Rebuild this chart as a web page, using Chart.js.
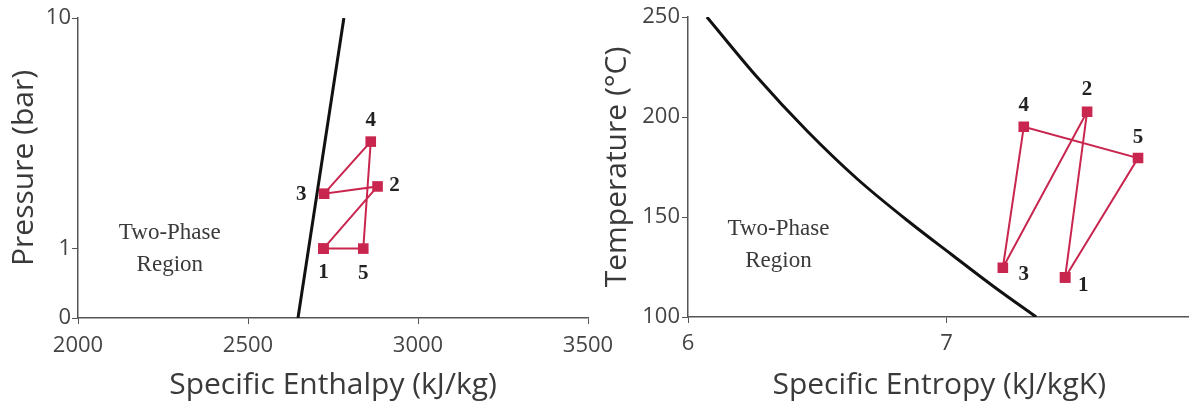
<!DOCTYPE html>
<html>
<head>
<meta charset="utf-8">
<script src="https://cdn.jsdelivr.net/npm/chart.js@4.4.0/dist/chart.umd.min.js"></script>
<style>
  html, body { margin: 0; padding: 0; background: #fff; }
  #wrap { position: relative; width: 1189px; height: 405px; overflow: hidden; }
  .box { position: absolute; top: 0; height: 405px; }
  #leftBox { left: 0; width: 640px; }
  #rightBox { left: 590px; width: 608px; }
</style>
</head>
<body>
<div id="wrap">
  <div class="box" id="leftBox"><canvas id="phChart" width="640" height="405"></canvas></div>
  <div class="box" id="rightBox"><canvas id="tsChart" width="608" height="405"></canvas></div>
</div>
<script>
// state numbers of the cycle
const stateLabels = ["1", "2", "3", "4", "5"];

// P-h diagram
const phEnthalpy = [2722, 2881, 2724, 2861, 2839];
const phPressure = [1.0, 1.86, 1.73, 2.91, 1.0];
const phSatEnthalpy = [2647, 2782];
const phSatPressure = [0.5, 10];
const phXTicks = [2000, 2500, 3000, 3500];
const phYTicks = [0.5, 1, 10];
const phYTickLabels = ["0", "1", "10"];

// T-s diagram
const tsEntropy = [7.459, 7.544, 7.218, 7.299, 7.741];
const tsTemperature = [119.8, 202.6, 124.6, 195.1, 179.5];
const tsSatEntropy = [6.073, 6.267, 6.461, 6.655, 6.861, 7.017, 7.185, 7.347];
const tsSatTemperature = [250, 220, 193, 169, 147, 131.5, 115, 100];
const tsXTicks = [6, 7];
const tsYTicks = [100, 150, 200, 250];

const regionText = ["Two-Phase", "Region"];

const RED = "#c9264f";
const AXIS = "#555";
const TEXT = "#3a3a3a";
const SANS = "'Open Sans', 'Noto Sans', sans-serif";
const SERIF = "'Liberation Serif', 'DejaVu Serif', serif";

// pixel offsets of the state numbers from their markers
const phLabelOffsets = [[0, 24], [17, -1], [-23, 1], [0, -21], [0, 25]];
const tsLabelOffsets = [[18, 8], [0, -22], [21, 7], [0, -21], [0, -20]];

function closedCycle(xs, ys) {
  const pts = xs.map((x, i) => ({ x: x, y: ys[i] }));
  pts.push(pts[0]);
  return pts;
}

function toPoints(xs, ys) {
  return xs.map((x, i) => ({ x: x, y: ys[i] }));
}

// draws state numbers and the "Two-Phase Region" note
function annotatePlugin(offsets, regionAt) {
  return {
    id: "annotate",
    afterDatasetsDraw(chart) {
      const ctx = chart.ctx;
      const meta = chart.getDatasetMeta(0);
      ctx.save();
      ctx.fillStyle = "#222";
      ctx.font = "bold 21px " + SERIF;
      ctx.textAlign = "center";
      ctx.textBaseline = "middle";
      stateLabels.forEach((lab, i) => {
        const p = meta.data[i];
        ctx.fillText(lab, p.x + offsets[i][0], p.y + offsets[i][1]);
      });
      const cx = chart.scales.x.getPixelForValue(regionAt[0]);
      const cy = chart.scales.y.getPixelForValue(regionAt[1]);
      ctx.fillStyle = TEXT;
      ctx.font = "23px " + SERIF;
      ctx.fillText(regionText[0], cx, cy - 16);
      ctx.fillText(regionText[1], cx, cy + 16);
      ctx.restore();
    },
  };
}

function axisCommon(titleText, titlePadding) {
  return {
    grid: {
      display: true,
      drawOnChartArea: false,
      drawTicks: true,
      tickLength: 6,
      color: AXIS,
      lineWidth: 1,
    },
    border: { display: true, color: AXIS, width: 1.5 },
    ticks: {
      color: "#444",
      font: { family: SANS, size: 22 },
      maxRotation: 0,
      autoSkip: false,
      callback: (v) => String(v),
    },
    title: {
      display: true,
      text: titleText,
      color: TEXT,
      font: { family: SANS, size: 30 },
      padding: titlePadding,
    },
  };
}

const cycleStyle = {
  showLine: true,
  borderColor: RED,
  borderWidth: 2,
  backgroundColor: RED,
  pointStyle: "rect",
  pointRadius: 7.5,
  pointBorderWidth: 0,
  pointBackgroundColor: RED,
};

const satStyle = {
  showLine: true,
  borderColor: "#111",
  borderWidth: 3,
  pointRadius: 0,
};

const phX = axisCommon("Specific Enthalpy (kJ/kg)", { bottom: 2 });
Object.assign(phX, {
  type: "linear",
  min: 2000,
  max: 3500,
  afterBuildTicks: (s) => { s.ticks = phXTicks.map((v) => ({ value: v })); },
  afterFit: (s) => { s.height = 87; },
});
phX.ticks.padding = 9;

const phY = axisCommon("Pressure (bar)", { top: 6 });
Object.assign(phY, {
  type: "logarithmic",
  min: 0.5,
  max: 10,
  afterBuildTicks: (s) => { s.ticks = phYTicks.map((v) => ({ value: v })); },
  afterFit: (s) => { s.width = 78; },
});
phY.ticks.padding = 1;
phY.ticks.callback = (v) => phYTickLabels[phYTicks.indexOf(v)];

// the axis runs off the right edge of the picture
const tsX = axisCommon("Specific Entropy (kJ/kgK)", { bottom: 2 });
Object.assign(tsX, {
  type: "linear",
  min: 6,
  max: 7.944,
  afterBuildTicks: (s) => { s.ticks = tsXTicks.map((v) => ({ value: v })); },
  afterFit: (s) => { s.height = 88; },
});
tsX.ticks.padding = 8;

const tsY = axisCommon("Temperature (°C)", { top: 9 });
Object.assign(tsY, {
  type: "linear",
  min: 100,
  max: 250,
  afterBuildTicks: (s) => { s.ticks = tsYTicks.map((v) => ({ value: v })); },
  afterFit: (s) => { s.width = 98; },
});
tsY.ticks.padding = 2;

const baseOptions = {
  responsive: false,
  animation: false,
  devicePixelRatio: 1,
  plugins: { legend: { display: false }, tooltip: { enabled: false } },
};

new Chart("phChart", {
  type: "scatter",
  data: {
    datasets: [
      Object.assign({ data: closedCycle(phEnthalpy, phPressure) }, cycleStyle),
      Object.assign({ data: toPoints(phSatEnthalpy, phSatPressure) }, satStyle),
    ],
  },
  options: Object.assign({}, baseOptions, {
    layout: { padding: { top: 18, right: 52, left: 0, bottom: 0 } },
    scales: { x: phX, y: phY },
  }),
  plugins: [annotatePlugin(phLabelOffsets, [2270, 1.0])],
});

new Chart("tsChart", {
  type: "scatter",
  data: {
    datasets: [
      Object.assign({ data: closedCycle(tsEntropy, tsTemperature) }, cycleStyle),
      Object.assign({
        data: toPoints(tsSatEntropy, tsSatTemperature),
        cubicInterpolationMode: "monotone",
      }, satStyle),
    ],
  },
  options: Object.assign({}, baseOptions, {
    layout: { padding: { top: 17, right: 0, left: 0, bottom: 0 } },
    scales: { x: tsX, y: tsY },
  }),
  plugins: [annotatePlugin(tsLabelOffsets, [6.35, 136])],
});
</script>
</body>
</html>
